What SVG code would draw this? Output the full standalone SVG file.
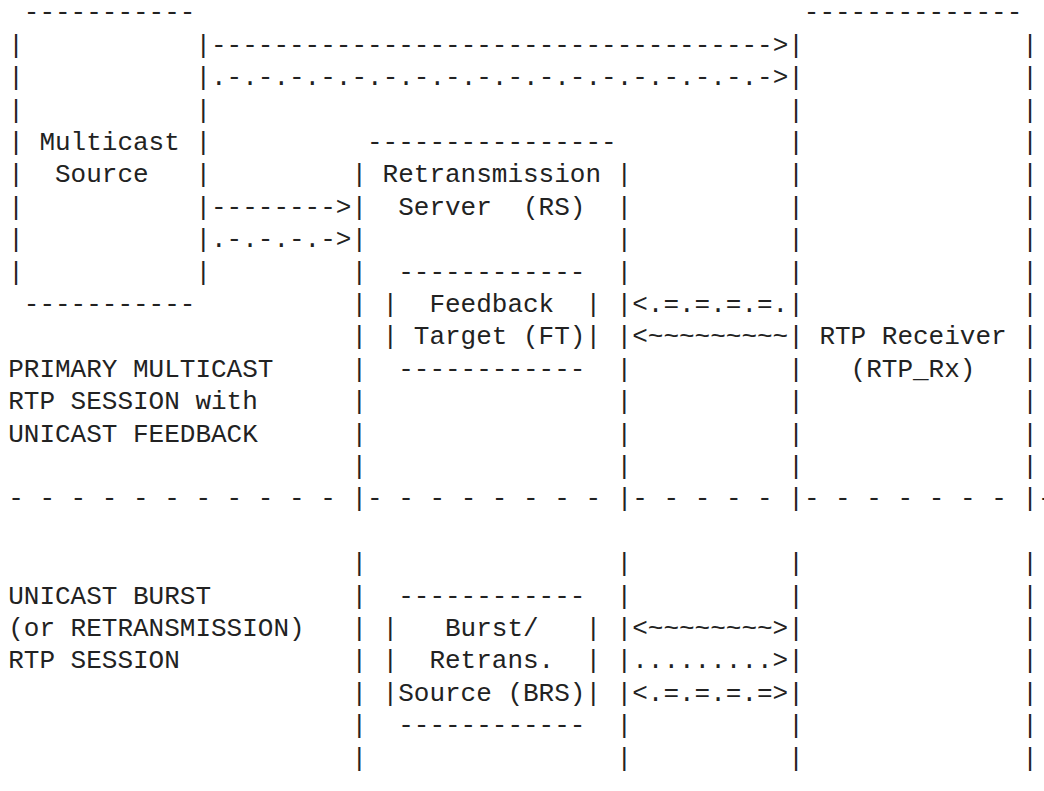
<svg xmlns="http://www.w3.org/2000/svg" width="1044" height="791" viewBox="0 0 1044 791" xml:space="preserve">
<style>
text { font-family: "Liberation Mono", "DejaVu Sans Mono", monospace; font-size: 26px; fill: #222222; white-space: pre; }
</style>
<rect x="0" y="0" width="1044" height="791" fill="#ffffff"/>
<g id="multicast-source">
<text x="23.8" y="20.4">-----------</text>
<text x="23.8" y="312">-----------</text>
<text><tspan x="8.2" y="52.8">|</tspan><tspan x="8.2" y="85.2">|</tspan><tspan x="8.2" y="117.6">|</tspan><tspan x="8.2" y="150">|</tspan><tspan x="8.2" y="182.4">|</tspan><tspan x="8.2" y="214.8">|</tspan><tspan x="8.2" y="247.2">|</tspan><tspan x="8.2" y="279.6">|</tspan></text>
<text><tspan x="195.4" y="52.8">|</tspan><tspan x="195.4" y="85.2">|</tspan><tspan x="195.4" y="117.6">|</tspan><tspan x="195.4" y="150">|</tspan><tspan x="195.4" y="182.4">|</tspan><tspan x="195.4" y="214.8">|</tspan><tspan x="195.4" y="247.2">|</tspan><tspan x="195.4" y="279.6">|</tspan></text>
<text x="39.4" y="150">Multicast</text>
<text x="55" y="182.4">Source</text>
</g>
<g id="retransmission-server">
<text x="367" y="150">----------------</text>
<text><tspan x="351.4" y="182.4">|</tspan><tspan x="351.4" y="214.8">|</tspan><tspan x="351.4" y="247.2">|</tspan><tspan x="351.4" y="279.6">|</tspan><tspan x="351.4" y="312">|</tspan><tspan x="351.4" y="344.4">|</tspan><tspan x="351.4" y="376.8">|</tspan><tspan x="351.4" y="409.2">|</tspan><tspan x="351.4" y="441.6">|</tspan><tspan x="351.4" y="474">|</tspan><tspan x="351.4" y="571.2">|</tspan><tspan x="351.4" y="603.6">|</tspan><tspan x="351.4" y="636">|</tspan><tspan x="351.4" y="668.4">|</tspan><tspan x="351.4" y="700.8">|</tspan><tspan x="351.4" y="733.2">|</tspan><tspan x="351.4" y="765.6">|</tspan></text>
<text><tspan x="616.6" y="182.4">|</tspan><tspan x="616.6" y="214.8">|</tspan><tspan x="616.6" y="247.2">|</tspan><tspan x="616.6" y="279.6">|</tspan><tspan x="616.6" y="312">|</tspan><tspan x="616.6" y="344.4">|</tspan><tspan x="616.6" y="376.8">|</tspan><tspan x="616.6" y="409.2">|</tspan><tspan x="616.6" y="441.6">|</tspan><tspan x="616.6" y="474">|</tspan><tspan x="616.6" y="571.2">|</tspan><tspan x="616.6" y="603.6">|</tspan><tspan x="616.6" y="636">|</tspan><tspan x="616.6" y="668.4">|</tspan><tspan x="616.6" y="700.8">|</tspan><tspan x="616.6" y="733.2">|</tspan><tspan x="616.6" y="765.6">|</tspan></text>
<text x="382.6" y="182.4">Retransmission</text>
<text x="398.2" y="214.8">Server  (RS)</text>
</g>
<g id="feedback-target">
<text x="398.2" y="279.6">------------</text>
<text x="398.2" y="376.8">------------</text>
<text><tspan x="382.6" y="312">|</tspan><tspan x="382.6" y="344.4">|</tspan></text>
<text><tspan x="585.4" y="312">|</tspan><tspan x="585.4" y="344.4">|</tspan></text>
<text x="429.4" y="312">Feedback</text>
<text x="413.8" y="344.4">Target (FT)</text>
</g>
<g id="burst-retransmission-source">
<text x="398.2" y="603.6">------------</text>
<text x="398.2" y="733.2">------------</text>
<text><tspan x="382.6" y="636">|</tspan><tspan x="382.6" y="668.4">|</tspan><tspan x="382.6" y="700.8">|</tspan></text>
<text><tspan x="585.4" y="636">|</tspan><tspan x="585.4" y="668.4">|</tspan><tspan x="585.4" y="700.8">|</tspan></text>
<text x="445" y="636">Burst/</text>
<text x="429.4" y="668.4">Retrans.</text>
<text x="398.2" y="700.8">Source (BRS)</text>
</g>
<g id="rtp-receiver">
<text x="803.8" y="20.4">--------------</text>
<text><tspan x="788.2" y="52.8">|</tspan><tspan x="788.2" y="85.2">|</tspan><tspan x="788.2" y="117.6">|</tspan><tspan x="788.2" y="150">|</tspan><tspan x="788.2" y="182.4">|</tspan><tspan x="788.2" y="214.8">|</tspan><tspan x="788.2" y="247.2">|</tspan><tspan x="788.2" y="279.6">|</tspan><tspan x="788.2" y="312">|</tspan><tspan x="788.2" y="344.4">|</tspan><tspan x="788.2" y="376.8">|</tspan><tspan x="788.2" y="409.2">|</tspan><tspan x="788.2" y="441.6">|</tspan><tspan x="788.2" y="474">|</tspan><tspan x="788.2" y="571.2">|</tspan><tspan x="788.2" y="603.6">|</tspan><tspan x="788.2" y="636">|</tspan><tspan x="788.2" y="668.4">|</tspan><tspan x="788.2" y="700.8">|</tspan><tspan x="788.2" y="733.2">|</tspan><tspan x="788.2" y="765.6">|</tspan></text>
<text><tspan x="1022.2" y="52.8">|</tspan><tspan x="1022.2" y="85.2">|</tspan><tspan x="1022.2" y="117.6">|</tspan><tspan x="1022.2" y="150">|</tspan><tspan x="1022.2" y="182.4">|</tspan><tspan x="1022.2" y="214.8">|</tspan><tspan x="1022.2" y="247.2">|</tspan><tspan x="1022.2" y="279.6">|</tspan><tspan x="1022.2" y="312">|</tspan><tspan x="1022.2" y="344.4">|</tspan><tspan x="1022.2" y="376.8">|</tspan><tspan x="1022.2" y="409.2">|</tspan><tspan x="1022.2" y="441.6">|</tspan><tspan x="1022.2" y="474">|</tspan><tspan x="1022.2" y="571.2">|</tspan><tspan x="1022.2" y="603.6">|</tspan><tspan x="1022.2" y="636">|</tspan><tspan x="1022.2" y="668.4">|</tspan><tspan x="1022.2" y="700.8">|</tspan><tspan x="1022.2" y="733.2">|</tspan><tspan x="1022.2" y="765.6">|</tspan></text>
<text x="819.4" y="344.4">RTP Receiver</text>
<text x="850.6" y="376.8">(RTP_Rx)</text>
</g>
<g id="connectors">
<text x="211" y="52.8">------------------------------------&gt;</text>
<text x="211" y="85.2">.-.-.-.-.-.-.-.-.-.-.-.-.-.-.-.-.-.-&gt;</text>
<text x="211" y="214.8">--------&gt;</text>
<text x="211" y="247.2">.-.-.-.-&gt;</text>
<text x="632.2" y="312">&lt;.=.=.=.=.</text>
<text x="632.2" y="344.4">&lt;~~~~~~~~~</text>
<text x="632.2" y="636">&lt;~~~~~~~~&gt;</text>
<text x="632.2" y="668.4">.........&gt;</text>
<text x="632.2" y="700.8">&lt;.=.=.=.=&gt;</text>
</g>
<g id="labels">
<text x="8.2" y="376.8">PRIMARY MULTICAST</text>
<text x="8.2" y="409.2">RTP SESSION with</text>
<text x="8.2" y="441.6">UNICAST FEEDBACK</text>
<text x="8.2" y="603.6">UNICAST BURST</text>
<text x="8.2" y="636">(or RETRANSMISSION)</text>
<text x="8.2" y="668.4">RTP SESSION</text>
</g>
<g id="separator">
<text x="8.2" y="506.4">- - - - - - - - - - - |- - - - - - - - |- - - - - |- - - - - - - |-</text>
</g>
</svg>
